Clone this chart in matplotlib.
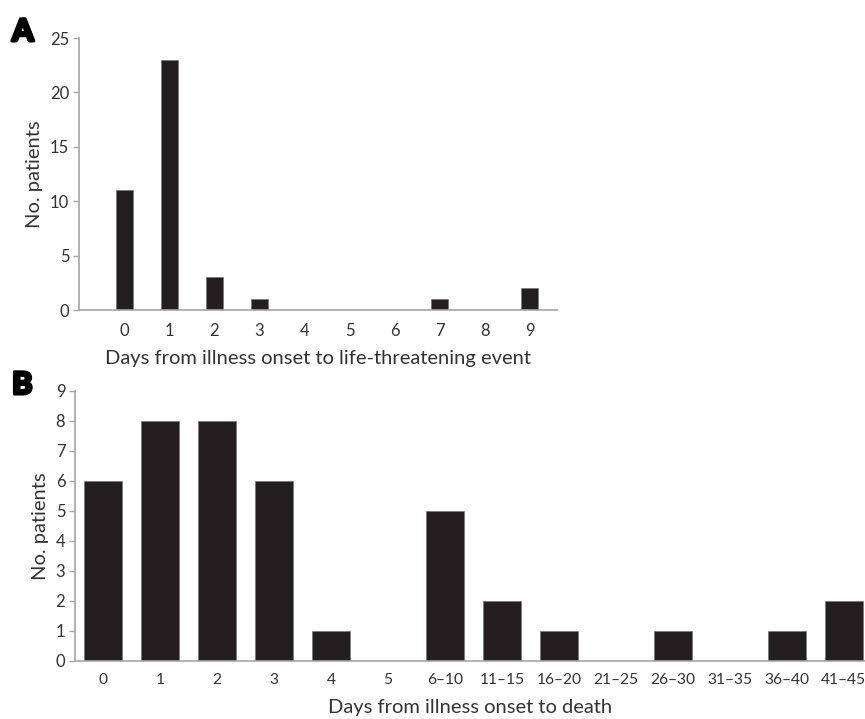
import matplotlib
matplotlib.use("Agg")
import matplotlib.pyplot as plt
import matplotlib.patheffects as pe

# panel A: days from onset to life-threatening event
days_a = ["0", "1", "2", "3", "4", "5", "6", "7", "8", "9"]
patients_a = [11, 23, 3, 1, 0, 0, 0, 1, 0, 2]

# panel B: days from onset to death
days_b = ["0", "1", "2", "3", "4", "5", "6\u201310", "11\u201315", "16\u201320",
          "21\u201325", "26\u201330", "31\u201335", "36\u201340", "41\u201345"]
patients_b = [6, 8, 8, 6, 1, 0, 5, 2, 1, 0, 1, 0, 1, 2]

plt.rcParams["font.family"] = ["Lato", "DejaVu Sans"]
bar_col = "#231f20"
axis_col = "#a6a6a6"
txt_col = "#333333"

fig = plt.figure(figsize=(8.65, 7.19), dpi=100)


def style(ax, ymax, ystep):
    for s in ["top", "right"]:
        ax.spines[s].set_visible(False)
    for s in ["left", "bottom"]:
        ax.spines[s].set_color(axis_col)
        ax.spines[s].set_linewidth(1.2)
    ax.set_ylim(0, ymax)
    ax.set_yticks(range(0, ymax + 1, ystep))
    ax.tick_params(axis="y", colors=axis_col, labelcolor=txt_col, labelsize=12,
                   length=4, width=1.0, pad=3)
    ax.tick_params(axis="x", length=0, labelcolor=txt_col, labelsize=12, pad=9)
    ax.set_ylabel("No. patients", fontsize=14.5, color=txt_col, labelpad=5)


ax1 = fig.add_axes([0.0913, 0.5688, 0.5526, 0.3782])
x1 = range(len(days_a))
ax1.bar(x1, patients_a, width=0.38, color=bar_col, edgecolor="#777777", linewidth=0.5)
ax1.set_xticks(list(x1))
ax1.set_xticklabels(days_a)
ax1.set_xlim(-1.0, 9.6)
style(ax1, 25, 5)
ax1.set_xlabel("Days from illness onset to life-threatening event", fontsize=14.5,
               color=txt_col, labelpad=8)

ax2 = fig.add_axes([0.0867, 0.0807, 0.9133, 0.3755])
x2 = range(len(days_b))
ax2.bar(x2, patients_b, width=0.66, color=bar_col, edgecolor="#777777", linewidth=0.5)
ax2.set_xticks(list(x2))
ax2.set_xticklabels(days_b)
ax2.set_xlim(-0.49, 13.37)
style(ax2, 9, 1)
ax2.tick_params(axis="x", labelsize=11.2)
ax2.set_xlabel("Days from illness onset to death", fontsize=14.5, color=txt_col, labelpad=8)

heavy = [pe.withStroke(linewidth=2.2, foreground="black")]
fig.text(0.014, 0.943, "A", fontsize=22, fontweight="black", color="black",
         family=["Lato", "DejaVu Sans"], path_effects=heavy)
fig.text(0.014, 0.452, "B", fontsize=22, fontweight="black", color="black",
         family=["Lato", "DejaVu Sans"], path_effects=heavy)

fig.savefig("out.png", dpi=100)
